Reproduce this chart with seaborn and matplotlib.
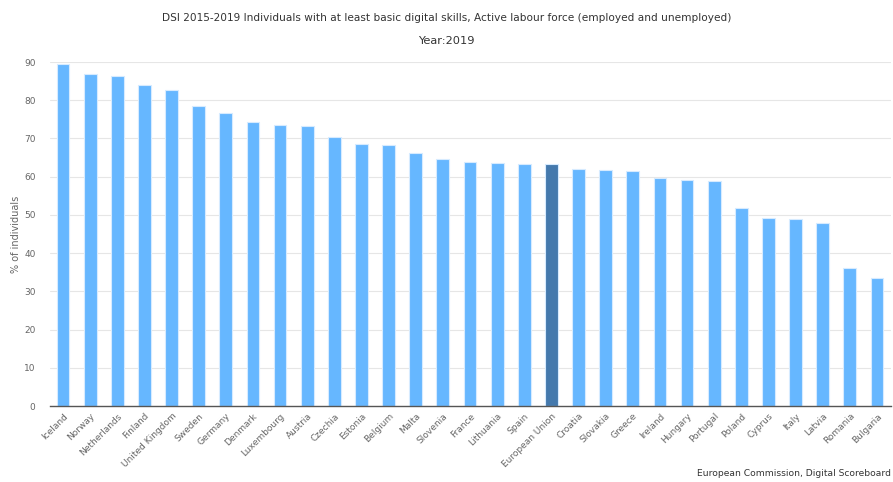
import matplotlib
matplotlib.use("Agg")
import matplotlib.pyplot as plt
import seaborn as sns
import pandas as pd

countries = ["Iceland", "Norway", "Netherlands", "Finland", "United Kingdom", "Sweden",
             "Germany", "Denmark", "Luxembourg", "Austria", "Czechia", "Estonia",
             "Belgium", "Malta", "Slovenia", "France", "Lithuania", "Spain",
             "European Union", "Croatia", "Slovakia", "Greece", "Ireland", "Hungary",
             "Portugal", "Poland", "Cyprus", "Italy", "Latvia", "Romania", "Bulgaria"]
values = [89.4, 86.8, 86.4, 84.1, 82.7, 78.6, 76.6, 74.4, 73.5, 73.3, 70.5, 68.6,
          68.2, 66.3, 64.5, 63.8, 63.6, 63.4, 63.4, 62.1, 61.7, 61.5, 59.6, 59.2,
          58.8, 51.9, 49.2, 48.8, 48.0, 36.1, 33.5]
highlight = "European Union"
yticks = [0, 10, 20, 30, 40, 50, 60, 70, 80, 90]

title = "DSI 2015-2019 Individuals with at least basic digital skills, Active labour force (employed and unemployed)"
subtitle = "Year:2019"
ylabel = "% of individuals"
credits = "European Commission, Digital Scoreboard"

sns.set_theme(style="white")
plt.rcParams['font.family'] = ['DejaVu Sans']

df = pd.DataFrame({"country": countries, "value": values})
palette = {c: ("#4479ad" if c == highlight else "#66b7ff") for c in countries}

fig = plt.figure(figsize=(8.93, 4.82), dpi=100)
ax = fig.add_axes([49.5 / 893, 76 / 482, 841 / 893, 344 / 482])
sns.barplot(data=df, x="country", y="value", hue="country", palette=palette,
            legend=False, width=0.47, edgecolor="#d6ebff", linewidth=0.8, ax=ax,
            saturation=1)

ax.set_ylim(0, 90)
ax.set_xlim(-0.5, len(countries) - 0.5)
ax.set_yticks(yticks)
ax.set_yticklabels([str(t) for t in yticks], fontsize=6.5, color="#666666")
ax.yaxis.grid(True, color="#e6e6e6", linewidth=0.8)
ax.set_axisbelow(True)
ax.tick_params(axis="y", length=0, pad=10)
ax.tick_params(axis="x", length=0, pad=4)
ax.set_xticks(range(len(countries)))
ax.set_xticklabels(countries, rotation=45, ha="right", rotation_mode="anchor",
                   fontsize=6.5, color="#666666")
ax.set_xlabel("")
ax.set_ylabel(ylabel, fontsize=7, color="#666666", labelpad=2)
for s in ["top", "right", "left"]:
    ax.spines[s].set_visible(False)
ax.spines["bottom"].set_color("#555555")
ax.spines["bottom"].set_linewidth(1)

fig.text(0.5, 1 - 18 / 482, title, ha="center", va="center", fontsize=7.6,
         color="#333333")
fig.text(0.5, 1 - 41 / 482, subtitle, ha="center", va="center", fontsize=8.2,
         color="#333333")
fig.text(891 / 893, 1 - 473 / 482, credits, ha="right", va="center", fontsize=6.6,
         color="#333333")

fig.savefig("out.png", dpi=100)
